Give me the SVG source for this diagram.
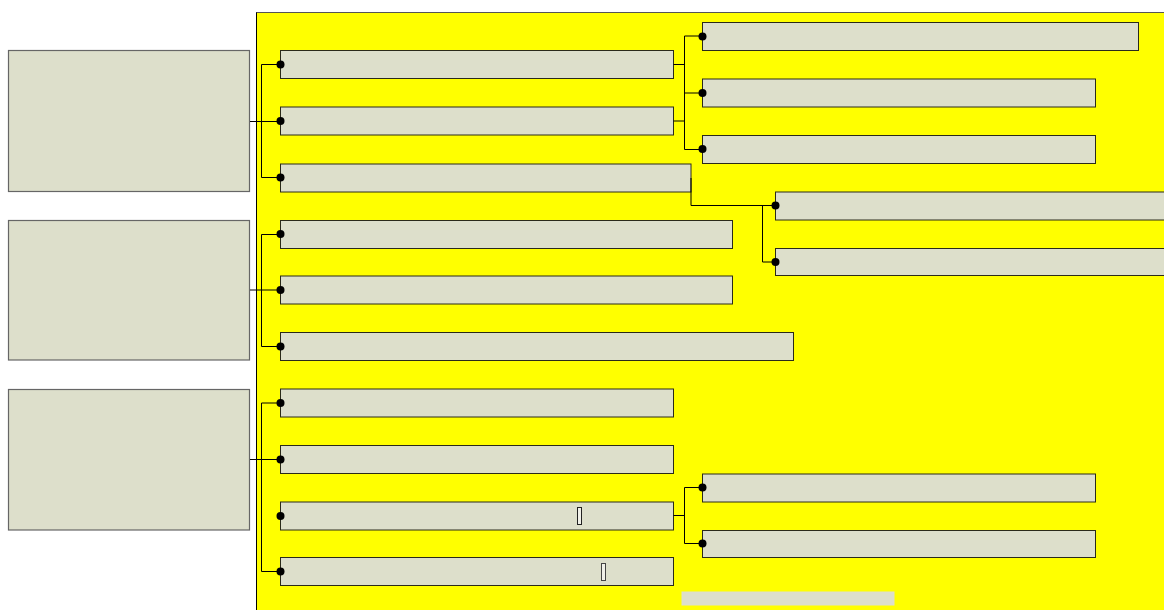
<svg xmlns="http://www.w3.org/2000/svg" width="1164" height="610" viewBox="0 0 1164 610">
  <style>
    .box { fill: #dddfcb; stroke: #2a2a1a; stroke-width: 1; }
    .lbox { fill: #dddfcb; stroke: #666; stroke-width: 1.2; }
    .wire { fill: none; stroke: #000; stroke-width: 1; }
    .dot { fill: #000; }
  </style>
  <rect width="1164" height="610" fill="#ffffff"/>
  <g id="container">
    <rect x="256.5" y="12.5" width="1000" height="700" fill="#ffff00" stroke="#555" stroke-width="1"/>
    <line x1="256.5" y1="12.5" x2="256.5" y2="610" stroke="#000" stroke-width="1"/>
  </g>

  <g id="left1"><rect class="lbox" x="8.5" y="50.5" width="241" height="141"/></g>
  <g id="left2"><rect class="lbox" x="8.5" y="220.5" width="241" height="139.5"/></g>
  <g id="left3"><rect class="lbox" x="8.5" y="389.5" width="241" height="140.5"/></g>

  <g id="n1"><rect class="box" x="280.5" y="50.5" width="393" height="28"/></g>
  <g id="n2"><rect class="box" x="280.5" y="107" width="393" height="28"/></g>
  <g id="n3"><rect class="box" x="280.5" y="164" width="410.5" height="28"/></g>
  <g id="n4"><rect class="box" x="280.5" y="220.5" width="452" height="28"/></g>
  <g id="n5"><rect class="box" x="280.5" y="276" width="452" height="28"/></g>
  <g id="n6"><rect class="box" x="280.5" y="332.5" width="513" height="28"/></g>
  <g id="n7"><rect class="box" x="280.5" y="389" width="393" height="28"/></g>
  <g id="n8"><rect class="box" x="280.5" y="445.5" width="393" height="28"/></g>
  <g id="n9">
    <rect class="box" x="280.5" y="502" width="393" height="28"/>
    <rect x="577.5" y="507.5" width="4" height="17" fill="#f0f0e8" stroke="#222" stroke-width="1"/>
  </g>
  <g id="n10">
    <rect class="box" x="280.5" y="557.5" width="393" height="28"/>
    <rect x="601.5" y="563.5" width="4" height="17" fill="#f0f0e8" stroke="#444" stroke-width="1"/>
  </g>

  <g id="r1"><rect class="box" x="702.5" y="22.5" width="436" height="28"/></g>
  <g id="r2"><rect class="box" x="702.5" y="79" width="393" height="28"/></g>
  <g id="r3"><rect class="box" x="702.5" y="135.5" width="393" height="28"/></g>
  <g id="r4"><rect class="box" x="775.5" y="192" width="400" height="28"/></g>
  <g id="r5"><rect class="box" x="775.5" y="248.5" width="400" height="27"/></g>
  <g id="r6"><rect class="box" x="702.5" y="474" width="393" height="28"/></g>
  <g id="r7"><rect class="box" x="702.5" y="530.5" width="393" height="27"/></g>

  <g id="bar"><rect x="681.5" y="591.5" width="213" height="14" fill="#dddfcb"/></g>

  <g id="connectors">
    <!-- group 1 -->
    <path class="wire" d="M250 121.5 H280 M261.5 64.5 V177.5 M261.5 64.5 H280 M261.5 177.5 H280"/>
    <path class="wire" d="M673.5 64.5 H684.5 M673.5 121 H684.5 M684.5 36 V149.5 M684.5 36 H702 M684.5 93 H702 M684.5 149.5 H702"/>
    <path class="wire" d="M691 178 V205.5 H775.5 M762.5 205.5 V262 H775.5"/>
    <!-- group 2 -->
    <path class="wire" d="M250 290 H280 M261.5 234.5 V346.5 M261.5 234.5 H280 M261.5 346.5 H280"/>
    <!-- group 3 -->
    <path class="wire" d="M250 459.5 H280 M261.5 403 V571.5 M261.5 403 H280 M261.5 571.5 H280"/>
    <path class="wire" d="M673.5 515.5 H684.5 M684.5 487.5 V543.5 M684.5 487.5 H702 M684.5 543.5 H702"/>
    <g class="dot">
      <circle cx="280.5" cy="64.5" r="4"/>
      <circle cx="280.5" cy="121" r="4"/>
      <circle cx="280.5" cy="177.5" r="4"/>
      <circle cx="280.5" cy="234" r="4"/>
      <circle cx="280.5" cy="290" r="4"/>
      <circle cx="280.5" cy="346.5" r="4"/>
      <circle cx="280.5" cy="403" r="4"/>
      <circle cx="280.5" cy="459.5" r="4"/>
      <circle cx="280.5" cy="516" r="4"/>
      <circle cx="280.5" cy="571.5" r="4"/>
      <circle cx="702.5" cy="36.5" r="4"/>
      <circle cx="702.5" cy="93" r="4"/>
      <circle cx="702.5" cy="149" r="4"/>
      <circle cx="775.5" cy="205.5" r="4"/>
      <circle cx="775.5" cy="262" r="4"/>
      <circle cx="702.5" cy="487.5" r="4"/>
      <circle cx="702.5" cy="543.5" r="4"/>
    </g>
  </g>
</svg>
